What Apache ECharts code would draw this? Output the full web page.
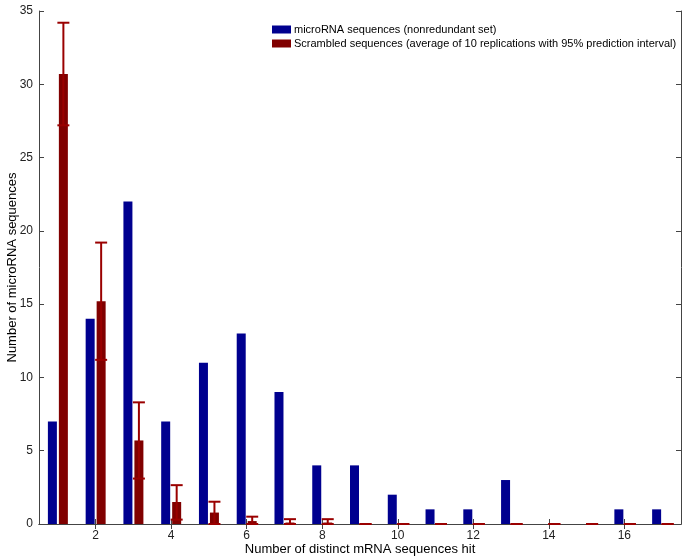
<!DOCTYPE html>
<html>
<head>
<meta charset="utf-8">
<script src="https://cdn.jsdelivr.net/npm/echarts@6/dist/echarts.min.js"></script>
<style>html,body{margin:0;padding:0;background:#fff}#c{width:685px;height:557px}</style>
</head>
<body>
<div id="c"></div>
<script>
const categories = ['1','2','3','4','5','6','7','8','9','10','11','12','13','14','15','16','17'];
const microRNA = [7,14,22,7,11,13,9,4,4,2,1,1,3,0,0,1,1];
const scrambled = [30.7,15.2,5.7,1.5,0.78,0.2,0.1,0.1,0,0,0,0,0,0,0,0,0];
const scrambledLow = [27.2,11.2,3.1,0.3,0,0,0,0,0,0,0,0,0,0,0,0,0];
const scrambledHigh = [34.2,19.2,8.3,2.65,1.52,0.5,0.33,0.33,0,0,0,0,0,0,0,0,0];
const yTicks = {min:0, max:35, interval:5};

const FONT = 'Liberation Sans, Arial, Helvetica, sans-serif';
const AX = '#444';
const errData = categories.map((c,i)=>[i, scrambledLow[i], scrambledHigh[i]]);
const evenOnly = (i)=> (i+1)%2===0;

const chart = echarts.init(document.getElementById('c'), null, {renderer:'canvas'});
chart.setOption({
  animation:false,
  backgroundColor:'#fff',
  grid:{left:39, right:4, top:11, bottom:33, containLabel:false, outerBoundsMode:'none'},
  legend:{
    data:['microRNA sequences (nonredundant set)','Scrambled sequences (average of 10 replications with 95% prediction interval)'],
    orient:'vertical', left:267, top:19, itemWidth:19, itemHeight:8, itemGap:3,
    icon:'rect',
    textStyle:{fontFamily:FONT, fontSize:11, color:'#000', padding:[0,0,0,-2]}
  },
  xAxis:[{
    type:'category', data:categories, boundaryGap:true,
    name:'Number of distinct mRNA sequences hit', nameLocation:'middle', nameGap:19, nameMoveOverlap:false,
    nameTextStyle:{fontFamily:FONT, fontSize:13, color:'#000'},
    axisLine:{show:true, lineStyle:{color:AX}},
    axisTick:{show:true, inside:true, length:5, alignWithLabel:true, interval:evenOnly, lineStyle:{color:AX}},
    axisLabel:{interval:evenOnly, fontFamily:FONT, fontSize:12, color:'#222', margin:6},
    splitLine:{show:false}
  },{
    type:'category', data:categories, boundaryGap:true, position:'top',
    axisLine:{show:true, lineStyle:{color:AX}},
    axisTick:{show:true, inside:true, length:5, alignWithLabel:true, interval:evenOnly, lineStyle:{color:AX}},
    axisLabel:{show:false}, splitLine:{show:false}
  }],
  yAxis:[{
    type:'value', min:yTicks.min, max:yTicks.max, interval:yTicks.interval,
    name:'Number of microRNA sequences', nameLocation:'middle', nameGap:20, nameMoveOverlap:false,
    nameTextStyle:{fontFamily:FONT, fontSize:13, color:'#000'},
    axisLine:{show:true, lineStyle:{color:AX}},
    axisTick:{show:true, inside:true, length:5, lineStyle:{color:AX}},
    axisLabel:{fontFamily:FONT, fontSize:12, color:'#222', margin:6},
    splitLine:{show:false}
  },{
    type:'value', min:yTicks.min, max:yTicks.max, interval:yTicks.interval, position:'right',
    axisLine:{show:true, lineStyle:{color:AX}},
    axisTick:{show:true, inside:true, length:5, lineStyle:{color:AX}},
    axisLabel:{show:false}, splitLine:{show:false}
  }],
  series:[{
    name:'microRNA sequences (nonredundant set)', type:'bar', data:microRNA,
    barWidth:9, barGap:'22%', itemStyle:{color:'#00008f'}
  },{
    name:'Scrambled sequences (average of 10 replications with 95% prediction interval)', type:'bar', data:scrambled,
    barWidth:9, barGap:'22%', itemStyle:{color:'#800000'}
  },{
    name:'err', type:'custom', data:errData, z:5,
    encode:{x:0, y:[1,2]},
    renderItem:function(params, api){
      const i = api.value(0);
      const pLo = api.coord([i, api.value(1)]);
      const pHi = api.coord([i, api.value(2)]);
      const cx = pLo[0] + 5.5;
      const hw = 6;
      const st = {stroke:'#9a0000', lineWidth:2};
      return {type:'group', children:[
        {type:'line', shape:{x1:cx, y1:pLo[1], x2:cx, y2:pHi[1]}, style:st},
        {type:'line', shape:{x1:cx-hw, y1:pHi[1], x2:cx+hw, y2:pHi[1]}, style:st},
        {type:'line', shape:{x1:cx-hw, y1:pLo[1], x2:cx+hw, y2:pLo[1]}, style:st}
      ]};
    }
  }]
});
</script>
</body>
</html>
